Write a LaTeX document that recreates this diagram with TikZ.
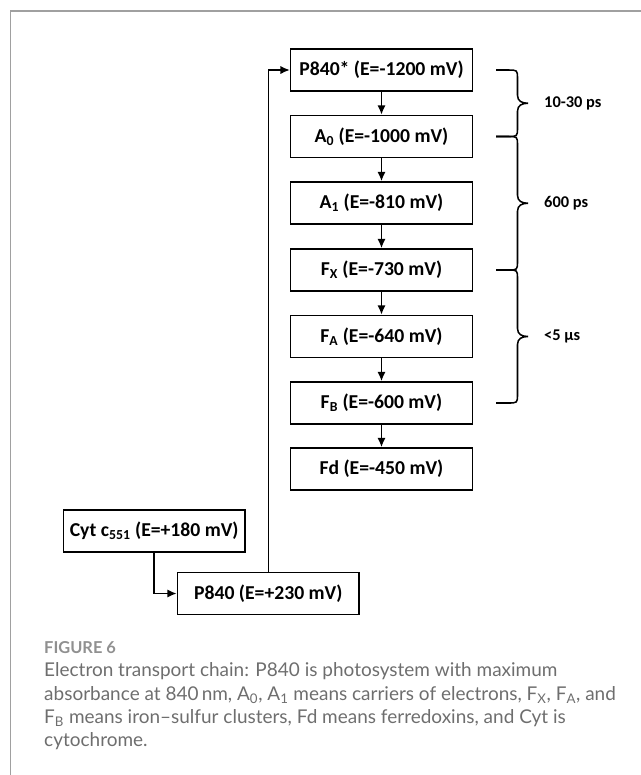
\documentclass[tikz,border=0pt]{standalone}
\usepackage{fontspec}
\setmainfont{Carlito}
\newfontfamily\capfont{Lato}
\usetikzlibrary{arrows.meta}
\definecolor{capgray}{HTML}{6E6E6E}
\definecolor{framegray}{HTML}{A0A0A0}
\tikzset{
    carrier/.style={draw, line width=1.4pt, minimum width=5.45cm, minimum height=1.26cm,
        inner sep=0pt, font=\fontsize{16.8}{20}\selectfont\bfseries},
    flow/.style={line width=1.3pt, -{Latex[length=8pt,width=7pt]}},
    timebrace/.style={line width=1.3pt},
    timelabel/.style={anchor=west, inner sep=0pt, font=\fontsize{14}{16}\selectfont\bfseries},
    figlabel/.style={anchor=base west, inner sep=0pt, text=framegray!90!black,
        font=\capfont\fontsize{14}{16}\selectfont\bfseries},
    capline/.style={anchor=base west, inner sep=0pt, text=capgray,
        font=\capfont\fontsize{16.2}{20}\selectfont}
}
\begin{document}
\begin{tikzpicture}[x=0.03cm, y=-0.03cm]
    % panel frame
    \useasboundingbox (0,0) rectangle (641,775);
    \draw[framegray, line width=1pt] (10.5,775) -- (10.5,11) -- (641,11);

    % electron carriers
    \node[carrier] (p840star) at (381.5,70) {P840* (E=-1200 mV)};
    \node[carrier] (a0) at (381.5,136.5) {A\textsubscript{0} (E=-1000 mV)};
    \node[carrier] (a1) at (381.5,203) {A\textsubscript{1} (E=-810 mV)};
    \node[carrier] (fx) at (381.5,270) {F\textsubscript{X} (E=-730 mV)};
    \node[carrier] (fa) at (381.5,336.5) {F\textsubscript{A} (E=-640 mV)};
    \node[carrier] (fb) at (381.5,403) {F\textsubscript{B} (E=-600 mV)};
    \node[carrier] (fd) at (381.5,469) {Fd (E=-450 mV)};
    \node[carrier] (cyt) at (154.2,531) {Cyt c\textsubscript{551} (E=+180 mV)};
    \node[carrier] (p840) at (268.3,593.5) {P840 (E=+230 mV)};

    \draw[flow] (p840star) -- (a0);
    \draw[flow] (a0) -- (a1);
    \draw[flow] (a1) -- (fx);
    \draw[flow] (fx) -- (fa);
    \draw[flow] (fa) -- (fb);
    \draw[flow] (fb) -- (fd);
    \draw[flow] (cyt.south) |- (p840.west);
    \draw[flow] (p840.north) |- (p840star.west);

    % transfer times
    \foreach \ya/\yb/\tm/\nm in {70/136.5/{10-30 ps}/fast, 136.5/270/{600 ps}/mid, 270/403/{<5 µs}/slow} {
        \pgfmathsetmacro\ym{(\ya+\yb)/2}
        \draw[timebrace] (496,\ya) -- (508,\ya) .. controls (517.5,\ya) and (517.5,\ya) .. (517.5,{\ya+9})
            -- (517.5,{\ym-8}) .. controls (517.5,{\ym-2}) and (522,\ym) .. (528,\ym)
            .. controls (522,\ym) and (517.5,{\ym+2}) .. (517.5,{\ym+8})
            -- (517.5,{\yb-9}) .. controls (517.5,\yb) and (517.5,\yb) .. (508,\yb) -- (496,\yb);
        \node[timelabel] (t\nm) at (544,\ym) {\tm};
    }

    % caption
    \node[figlabel] (figtitle) at (44,653) {FIGURE 6};
    \node[capline] (cap1) at (44,676.7) {Electron transport chain: P840 is photosystem with maximum};
    \node[capline] (cap2) at (44,700) {absorbance at 840\,nm, A\textsubscript{0}, A\textsubscript{1} means carriers of electrons, F\textsubscript{X}, F\textsubscript{A}, and};
    \node[capline] (cap3) at (44,723.3) {F\textsubscript{B} means iron\textendash sulfur clusters, Fd means ferredoxins, and Cyt is};
    \node[capline] (cap4) at (44,746.6) {cytochrome.};
\end{tikzpicture}
\end{document}
